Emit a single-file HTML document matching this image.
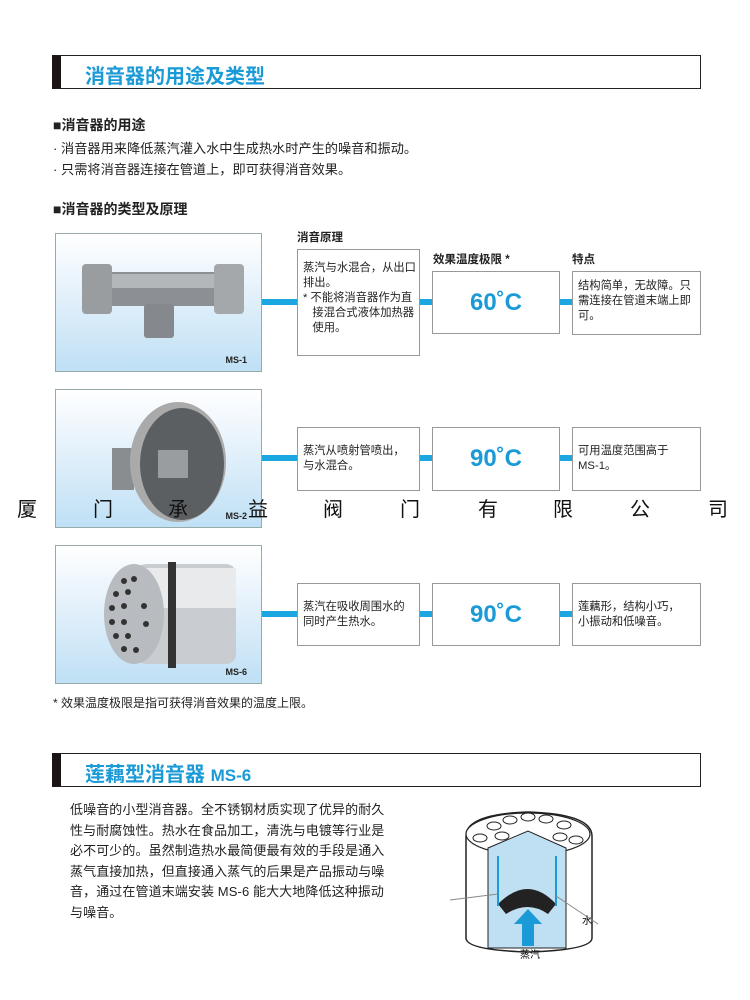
<!DOCTYPE html>
<html><head><meta charset="utf-8"><style>
*{margin:0;padding:0;box-sizing:border-box}
body{width:750px;height:1000px;background:#fff;position:relative;overflow:hidden;font-family:"Liberation Sans","Noto Sans CJK SC",sans-serif;color:#222}
.a{position:absolute;white-space:nowrap}
.hdr{position:absolute;left:52px;width:649px;height:34px;border:1.5px solid #222;border-left:9px solid #1a1414;background:#fff}
.hdr span{position:absolute;left:24px;top:4px;font-size:20px;font-weight:bold;color:#1a9ad6}
.sub{font-size:14px;font-weight:bold}
.t{font-size:13.2px}
.photo{position:absolute;left:55px;width:207px;height:139px;border:1px solid #9aa;background:linear-gradient(#fff 0%,#e6f2fb 40%,#bfe0f5 100%)}
.photo .lb{position:absolute;right:14px;bottom:6px;font-size:9px;font-weight:bold}
.box{position:absolute;border:1px solid #999;background:#fff;font-size:11.3px;line-height:15px;padding:0 0 0 5px;white-space:nowrap;overflow:hidden}
.tmp{position:absolute;border:1px solid #999;background:#fff;color:#1a9ad6;font-size:24px;font-weight:bold;text-align:center}
.bar{position:absolute;height:6px;background:#1aa6e0}
.wm{position:absolute;top:493px;font-size:20px;color:#111}
</style></head><body>
<div class="hdr" style="top:55px"><span>消音器的用途及类型</span></div>
<div class="a sub" style="left:53px;top:115px">■消音器的用途</div>
<div class="a t" style="left:53px;top:138px">· 消音器用来降低蒸汽灌入水中生成热水时产生的噪音和振动。</div>
<div class="a t" style="left:53px;top:159px">· 只需将消音器连接在管道上，即可获得消音效果。</div>
<div class="a sub" style="left:53px;top:199px">■消音器的类型及原理</div>
<div class="a" style="left:297px;top:229px;font-size:11.5px;font-weight:bold">消音原理</div>
<div class="a" style="left:433px;top:251px;font-size:11.5px;font-weight:bold">效果温度极限 *</div>
<div class="a" style="left:572px;top:251px;font-size:11.5px;font-weight:bold">特点</div>

<div class="photo" style="top:233px"><svg width="207" height="139"><rect x="40" y="38" width="130" height="34" rx="4" fill="#8c8f93"/><rect x="40" y="40" width="130" height="14" fill="#b4b7ba"/><rect x="26" y="30" width="30" height="50" rx="4" fill="#9a9da0"/><rect x="158" y="30" width="30" height="50" rx="4" fill="#a5a8ab"/><rect x="88" y="70" width="30" height="34" rx="3" fill="#85888c"/></svg><div class="lb">MS-1</div></div>
<div class="photo" style="top:389px"><svg width="207" height="139"><rect x="56" y="58" width="22" height="42" fill="#8a8d90"/><ellipse cx="122" cy="72" rx="48" ry="60" fill="#aaa"/><ellipse cx="126" cy="74" rx="42" ry="56" fill="#5c5f62"/><rect x="102" y="60" width="30" height="28" fill="#9a9da0"/></svg><div class="lb">MS-2</div></div>
<div class="photo" style="top:545px"><svg width="207" height="139"><rect x="80" y="18" width="100" height="100" rx="10" fill="#c9ccd0"/><rect x="80" y="22" width="100" height="40" fill="#e8eaec"/><rect x="112" y="16" width="8" height="106" fill="#333"/><ellipse cx="78" cy="68" rx="30" ry="50" fill="#b8bbbf"/><g fill="#333"><circle cx="68" cy="35" r="3"/><circle cx="78" cy="33" r="3"/><circle cx="60" cy="48" r="3"/><circle cx="72" cy="46" r="3"/><circle cx="56" cy="62" r="3"/><circle cx="68" cy="60" r="3"/><circle cx="56" cy="76" r="3"/><circle cx="68" cy="76" r="3"/><circle cx="60" cy="90" r="3"/><circle cx="72" cy="90" r="3"/><circle cx="68" cy="103" r="3"/><circle cx="80" cy="104" r="3"/><circle cx="88" cy="60" r="3"/><circle cx="90" cy="78" r="3"/></g></svg><div class="lb">MS-6</div></div>

<div class="bar" style="left:262px;width:35px;top:299px"></div>
<div class="bar" style="left:420px;width:12px;top:299px"></div>
<div class="bar" style="left:560px;width:12px;top:299px"></div>
<div class="box" style="left:297px;top:249px;width:123px;height:107px;padding-top:11px">蒸汽与水混合，从出口<br>排出。<br>* 不能将消音器作为直<br>&nbsp;&nbsp;&nbsp;接混合式液体加热器<br>&nbsp;&nbsp;&nbsp;使用。</div>
<div class="tmp" style="left:432px;top:271px;width:128px;height:63px;line-height:61px">60˚C</div>
<div class="box" style="left:572px;top:271px;width:129px;height:64px;padding-top:7px">结构简单，无故障。只<br>需连接在管道末端上即<br>可。</div>

<div class="bar" style="left:262px;width:35px;top:455px"></div>
<div class="bar" style="left:420px;width:12px;top:455px"></div>
<div class="bar" style="left:560px;width:12px;top:455px"></div>
<div class="box" style="left:297px;top:427px;width:123px;height:64px;padding-top:16px">蒸汽从喷射管喷出，<br>与水混合。</div>
<div class="tmp" style="left:432px;top:427px;width:128px;height:64px;line-height:62px">90˚C</div>
<div class="box" style="left:572px;top:427px;width:129px;height:64px;padding-top:16px">可用温度范围高于<br>MS-1。</div>

<div class="bar" style="left:262px;width:35px;top:611px"></div>
<div class="bar" style="left:420px;width:12px;top:611px"></div>
<div class="bar" style="left:560px;width:12px;top:611px"></div>
<div class="box" style="left:297px;top:583px;width:123px;height:63px;padding-top:16px">蒸汽在吸收周围水的<br>同时产生热水。</div>
<div class="tmp" style="left:432px;top:583px;width:128px;height:63px;line-height:61px">90˚C</div>
<div class="box" style="left:572px;top:583px;width:129px;height:63px;padding-top:16px">莲藕形，结构小巧，<br>小振动和低噪音。</div>

<div class="wm" style="left:17px">厦</div><div class="wm" style="left:93px">门</div><div class="wm" style="left:168px">承</div><div class="wm" style="left:248px">益</div><div class="wm" style="left:323px">阀</div><div class="wm" style="left:400px">门</div><div class="wm" style="left:478px">有</div><div class="wm" style="left:553px">限</div><div class="wm" style="left:630px">公</div><div class="wm" style="left:708px">司</div>

<div class="a" style="left:53px;top:694px;font-size:12px">* 效果温度极限是指可获得消音效果的温度上限。</div>
<div class="hdr" style="top:753px"><span>莲藕型消音器 <span style="position:static;font-size:17px">MS-6</span></span></div>
<div class="a" style="left:70px;top:800px;font-size:13px;line-height:20.6px;letter-spacing:0.1px">低噪音的小型消音器。全不锈钢材质实现了优异的耐久<br>性与耐腐蚀性。热水在食品加工，清洗与电镀等行业是<br>必不可少的。虽然制造热水最简便最有效的手段是通入<br>蒸气直接加热，但直接通入蒸气的后果是产品振动与噪<br>音，通过在管道末端安装 MS-6 能大大地降低这种振动<br>与噪音。</div>

<svg class="a" style="left:450px;top:806px" width="160" height="160">
<path d="M16 30 Q16 8 78 6 Q142 8 142 30 L142 132 Q142 144 78 146 Q16 144 16 132 Z" fill="#fff" stroke="#222" stroke-width="1.5"/>
<ellipse cx="78" cy="28" rx="62" ry="21" fill="#fff" stroke="#222" stroke-width="1.2"/>
<g fill="#fff" stroke="#222"><ellipse cx="44" cy="20" rx="7" ry="4"/><ellipse cx="60" cy="14" rx="7" ry="4"/><ellipse cx="78" cy="11" rx="7" ry="4"/><ellipse cx="96" cy="13" rx="7" ry="4"/><ellipse cx="114" cy="19" rx="7" ry="4"/><ellipse cx="30" cy="32" rx="7" ry="4"/><ellipse cx="126" cy="34" rx="7" ry="4"/><ellipse cx="110" cy="31" rx="7" ry="4"/><ellipse cx="52" cy="30" rx="7" ry="4"/></g>
<path d="M38 42 L78 25 L116 42 L116 142 L38 142 Z" fill="#bfe0f2" stroke="#222"/>
<path d="M48 98 Q78 68 106 98 L98 108 Q78 94 56 108 Z" fill="#222"/>
<path d="M48 50 L48 100 M106 50 L106 100" stroke="#1a9ad6" stroke-width="2"/>
<path d="M0 94 L48 88 M148 118 L106 90" stroke="#888"/>
<path d="M72 140 L72 118 L64 118 L78 103 L92 118 L84 118 L84 140 Z" fill="#1a9ad6"/>
<text x="132" y="118" font-size="10" font-family="Liberation Sans,Noto Sans CJK SC,sans-serif">水</text>
<text x="70" y="152" font-size="10" font-family="Liberation Sans,Noto Sans CJK SC,sans-serif">蒸汽</text>
</svg>
</body></html>
